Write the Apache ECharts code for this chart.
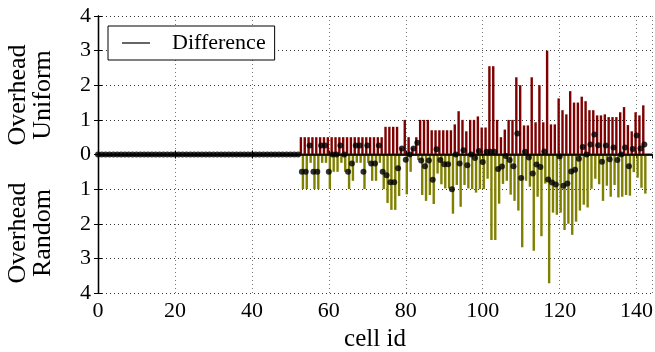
<!DOCTYPE html>
<html>
<head>
<meta charset="utf-8">
<script src="https://cdn.jsdelivr.net/npm/echarts@6/dist/echarts.min.js"></script>
<style>
    html, body { margin: 0; padding: 0; background: #fff; }
    #chart { width: 655px; height: 352px; }
</style>
</head>
<body>
<div id="chart"></div>
<script>
// cells 53..142 carry bars, cells 0..142 carry a difference dot
const firstBarCell = 53;

const uniformOverhead = [
    0.5, 0.5, 0.5, 0.5, 0.5, 0.5, 0.5, 0.5, 0.5, 0.5,
    0.5, 0.5, 0.5, 0.5, 0.5, 0.5, 0.5, 0.5, 0.5, 0.5,
    0.5, 0.5, 0.8, 0.8, 0.8, 0.8, 0.2, 1.0, 0.5, 0.2,
    0.5, 1.0, 1.0, 1.0, 0.7, 0.7, 0.7, 0.7, 0.7, 0.7,
    0.87, 1.25, 1.0, 0.67, 1.0, 1.0, 1.1, 0.78, 0.78, 2.55,
    2.55, 1.0, 0.5, 0.72, 1.0, 1.0, 2.23, 2.0, 0.84, 0.84,
    2.23, 0.93, 2.0, 0.93, 3.0, 0.87, 0.87, 1.62, 1.28, 1.16,
    1.83, 1.5, 1.5, 1.67, 1.54, 1.28, 1.28, 1.13, 1.13, 1.16,
    1.08, 1.08, 1.08, 1.22, 1.37, 0.85, 0.67, 1.22, 1.13, 1.42
];

const randomOverhead = [
    -1.0, -1.0, -0.24, -1.0, -1.0, -0.24, -0.24, -1.0, -0.5, -0.5,
    -0.24, -0.5, -1.0, -0.76, -0.24, -0.24, -1.0, -0.24, -0.76, -0.76,
    -0.24, -1.0, -1.4, -1.6, -1.6, -1.2, -0.03, -1.15, -0.5, -0.03,
    -0.16, -1.17, -1.34, -1.17, -1.43, -0.55, -0.86, -0.98, -0.98, -1.71,
    -0.88, -1.51, -0.88, -0.98, -1.0, -1.1, -1.0, -1.0, -0.7, -2.47,
    -2.47, -1.42, -0.85, -0.76, -1.16, -1.34, -1.62, -2.68, -0.76, -0.93,
    -2.78, -1.22, -2.36, -0.84, -3.72, -1.68, -1.74, -1.68, -2.18, -2.0,
    -2.32, -1.94, -1.62, -1.45, -1.53, -0.99, -0.7, -0.86, -1.34, -0.9,
    -1.22, -0.88, -1.24, -1.22, -1.17, -1.19, -0.51, -0.67, -0.96, -1.13
];

const difference = [
    0, 0, 0, 0, 0, 0, 0, 0, 0, 0,
    0, 0, 0, 0, 0, 0, 0, 0, 0, 0,
    0, 0, 0, 0, 0, 0, 0, 0, 0, 0,
    0, 0, 0, 0, 0, 0, 0, 0, 0, 0,
    0, 0, 0, 0, 0, 0, 0, 0, 0, 0,
    0, 0, 0,
    -0.5, -0.5, 0.26, -0.5, -0.5, 0.26, 0.26, -0.5, 0, 0,
    0.26, 0, -0.5, -0.26, 0.26, 0.26, -0.5, 0.26, -0.26, -0.26,
    0.26, -0.5, -0.6, -0.8, -0.8, -0.4, 0.17, -0.15, 0, 0.17,
    0.34, -0.17, -0.34, -0.17, -0.73, 0.15, -0.16, -0.28, -0.28, -1.0,
    0, -0.26, 0.12, -0.31, 0, -0.1, 0.1, -0.22, 0.08, 0.08,
    0.08, -0.42, -0.35, -0.04, -0.16, -0.34, 0.61, -0.68, 0.08, -0.09,
    -0.55, -0.29, -0.36, 0.09, -0.72, -0.81, -0.87, -0.06, -0.9, -0.84,
    -0.49, -0.44, -0.12, 0.22, 0, 0.29, 0.58, 0.27, -0.21, 0.26,
    -0.14, 0.2, -0.16, 0, 0.2, -0.34, 0.16, 0.55, 0.17, 0.29
];

const serif = '"Liberation Serif", "DejaVu Serif", serif';

const chart = echarts.init(document.getElementById("chart"), null, { renderer: "canvas" });

const dottedX = { show: true, lineStyle: { color: "#777", width: 1, type: [1, 3] } };
const dottedY = { show: true, lineStyle: { color: "#333", width: 1, type: [1, 3] } };

chart.setOption({
    animation: false,
    backgroundColor: "#fff",
    grid: { left: 98, right: 3, top: 16, bottom: 59, containLabel: false, outerBoundsMode: "none" },
    legend: {
        left: 108,
        top: 26,
        padding: [6, 9, 6, 14],
        backgroundColor: "#fff",
        borderColor: "#000",
        borderWidth: 1,
        borderRadius: 0,
        itemWidth: 28,
        itemHeight: 1.5,
        data: [{ name: "Difference", icon: "rect", itemStyle: { color: "#000" } }],
        textStyle: { fontFamily: serif, fontSize: 22, color: "#000", padding: [0, 0, 0, 17] },
    },
    xAxis: [
        {
            type: "value",
            min: 0,
            max: 144,
            interval: 20,
            name: "cell id",
            nameLocation: "middle",
            nameGap: 31,
            nameTextStyle: { fontFamily: serif, fontSize: 25, color: "#000" },
            axisLine: { show: true, lineStyle: { color: "#000", width: 1.3 } },
            axisTick: { show: true, inside: true, length: 4, lineStyle: { color: "#000" } },
            axisLabel: { fontFamily: serif, fontSize: 22, color: "#000", margin: 7, showMaxLabel: false },
            splitLine: dottedX,
        },
        {
            type: "value",
            position: "top",
            min: 0,
            max: 144,
            interval: 20,
            axisLine: { show: true, lineStyle: { color: "#000", width: 1.3 } },
            axisTick: { show: true, inside: true, length: 4, lineStyle: { color: "#000" } },
            axisLabel: { show: false },
            splitLine: { show: false },
        },
    ],
    yAxis: [
        {
            type: "value",
            min: -4,
            max: 4,
            interval: 1,
            axisLine: { show: true, lineStyle: { color: "#000", width: 1.3 } },
            axisTick: { show: true, inside: true, length: 4, lineStyle: { color: "#000" } },
            axisLabel: {
                fontFamily: serif,
                fontSize: 22,
                color: "#000",
                margin: 7,
                formatter: (v) => String(Math.abs(v)),
            },
            splitLine: dottedY,
        },
        {
            type: "value",
            position: "right",
            min: -4,
            max: 4,
            interval: 1,
            axisLine: { show: true, lineStyle: { color: "#000", width: 1.3 } },
            axisTick: { show: true, inside: true, length: 4, lineStyle: { color: "#000" } },
            axisLabel: { show: false },
            splitLine: { show: false },
        },
    ],
    graphic: [
        {
            type: "text",
            x: 31,
            y: 95,
            rotation: Math.PI / 2,
            style: {
                text: "Overhead\nUniform",
                font: '26px "Liberation Serif"',
                align: "center",
                verticalAlign: "middle",
                lineHeight: 25,
                fill: "#000",
            },
        },
        {
            type: "text",
            x: 31,
            y: 233,
            rotation: Math.PI / 2,
            style: {
                text: "Overhead\nRandom",
                font: '26px "Liberation Serif"',
                align: "center",
                verticalAlign: "middle",
                lineHeight: 25,
                fill: "#000",
            },
        },
    ],
    series: [
        {
            name: "Overhead Uniform",
            type: "bar",
            barWidth: 2.4,
            barGap: "-15%",
            itemStyle: { color: "#7f0000" },
            data: uniformOverhead.map((v, i) => [firstBarCell + i, v]),
            markLine: {
                silent: true,
                symbol: "none",
                label: { show: false },
                lineStyle: { color: "#000", width: 1.5, type: "solid" },
                data: [{ yAxis: 0 }],
            },
            z: 2,
        },
        {
            name: "Overhead Random",
            type: "bar",
            barWidth: 2.4,
            barGap: "-15%",
            itemStyle: { color: "#808000" },
            data: randomOverhead.map((v, i) => [firstBarCell + i, v]),
            z: 2,
        },
        {
            name: "Difference",
            type: "scatter",
            symbol: "circle",
            symbolSize: 6,
            itemStyle: { color: "#000" },
            data: difference.map((v, i) => [i, v]),
            z: 5,
        },
    ],
});
</script>
</body>
</html>
